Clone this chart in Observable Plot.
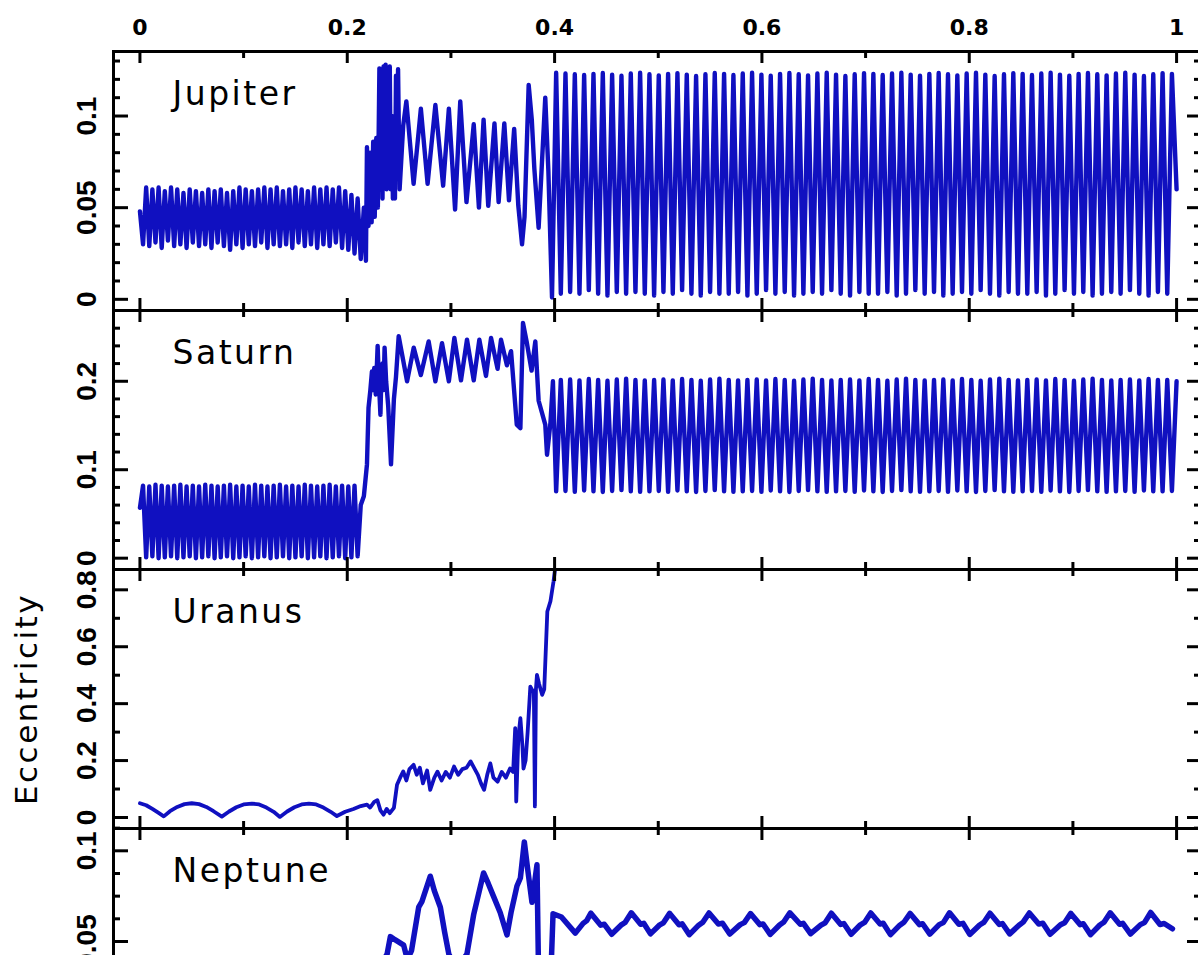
<!DOCTYPE html>
<html>
<head>
<meta charset="utf-8">
<script src="https://cdn.jsdelivr.net/npm/d3@7"></script>
<script src="https://cdn.jsdelivr.net/npm/@observablehq/plot@0.6"></script>
<style>
html, body { margin: 0; padding: 0; background: #fff; }
#chart { position: relative; width: 1198px; height: 955px; overflow: hidden; background: #fff; }
#chart svg { position: absolute; left: 0; }
</style>
</head>
<body>
<div id="chart"></div>
<script>
// ---------------- data ----------------
const planets = ["Jupiter", "Saturn", "Uranus", "Neptune"];
const yAxisTitle = "Eccentricity";

const xTicks = [0, 0.2, 0.4, 0.6, 0.8, 1];
const xTickLabels = ["0", "0.2", "0.4", "0.6", "0.8", "1"];
const xMinorTicks = [0.1, 0.3, 0.5, 0.7, 0.9];

const jupiterTicks = [0, 0.05, 0.1];
const jupiterTickLabels = ["0", "0.05", "0.1"];
const jupiterMinorTicks = [0.01, 0.02, 0.03, 0.04, 0.06, 0.07, 0.08, 0.09, 0.11, 0.12, 0.13];

const saturnTicks = [0, 0.1, 0.2];
const saturnTickLabels = ["0", "0.1", "0.2"];
const saturnMinorTicks = [0.02, 0.04, 0.06, 0.08, 0.12, 0.14, 0.16, 0.18, 0.22, 0.24, 0.26];

const uranusTicks = [0, 0.2, 0.4, 0.6, 0.8];
const uranusTickLabels = ["0", "0.2", "0.4", "0.6", "0.8"];
const uranusMinorTicks = [0.1, 0.3, 0.5, 0.7];

const neptuneTicks = [0, 0.05, 0.1];
const neptuneTickLabels = ["0", "0.05", "0.1"];
const neptuneMinorTicks = [0.0125, 0.025, 0.0375, 0.0625, 0.075, 0.0875, 0.1125];

// time samples (fraction of run) shared by Jupiter & Saturn, early phase
const earlyT = [0,0.003,0.006,0.009,0.012,0.015,0.018,0.021,0.024,0.027,0.03,0.033,0.036,0.039,0.042,0.045,0.048,0.051,0.054,0.057,0.06,0.063,0.066,0.069,0.072,0.075,0.078,0.081,0.084,0.087,0.09,0.093,0.096,0.099,0.102,0.105,0.108,0.111,0.114,0.117,0.12,0.123,0.126,0.129,0.132,0.135,0.138,0.141,0.144,0.147,0.15,0.153,0.156,0.159,0.162,0.165,0.168,0.171,0.174,0.177,0.18,0.183,0.186,0.189,0.192,0.195,0.198,0.201,0.204,0.207,0.21,0.213];

// time samples shared by Jupiter & Saturn, late phase
const lateT = [
0.4015,0.406,0.4105,0.415,0.4195,0.424,0.4285,0.433,0.4375,0.442,
0.4465,0.451,0.4555,0.46,0.4645,0.469,0.4735,0.478,0.4825,0.487,
0.4915,0.496,0.5005,0.505,0.5095,0.514,0.5185,0.523,0.5275,0.532,
0.5365,0.541,0.5455,0.55,0.5545,0.559,0.5635,0.568,0.5725,0.577,
0.5815,0.586,0.5905,0.595,0.5995,0.604,0.6085,0.613,0.6175,0.622,
0.6265,0.631,0.6355,0.64,0.6445,0.649,0.6535,0.658,0.6625,0.667,
0.6715,0.676,0.6805,0.685,0.6895,0.694,0.6985,0.703,0.7075,0.712,
0.7165,0.721,0.7255,0.73,0.7345,0.739,0.7435,0.748,0.7525,0.757,
0.7615,0.766,0.7705,0.775,0.7795,0.784,0.7885,0.793,0.7975,0.802,
0.8065,0.811,0.8155,0.82,0.8245,0.829,0.8335,0.838,0.8425,0.847,
0.8515,0.856,0.8605,0.865,0.8695,0.874,0.8785,0.883,0.8875,0.892,
0.8965,0.901,0.9055,0.91,0.9145,0.919,0.9235,0.928,0.9325,0.937,
0.9415,0.946,0.9505,0.955,0.9595,0.964,0.9685,0.973,0.9775,0.982,
0.9865,0.991,0.9955,1];

// Jupiter
const jupiterEarly = [0.048,0.030,0.061,0.029,0.060,0.031,0.061,0.028,0.059,0.032,0.061,0.029,0.060,0.030,0.058,0.028,0.060,0.031,0.059,0.029,0.058,0.030,0.060,0.028,0.059,0.031,0.060,0.029,0.058,0.027,0.059,0.030,0.061,0.028,0.060,0.030,0.059,0.029,0.060,0.031,0.061,0.028,0.060,0.030,0.061,0.029,0.059,0.030,0.060,0.028,0.061,0.031,0.060,0.029,0.059,0.030,0.061,0.028,0.060,0.030,0.061,0.029,0.060,0.031,0.061,0.028,0.059,0.027,0.057,0.025,0.055,0.022];
const jupiterMidT = [0.216,0.218,0.219,0.2205,0.222,0.2235,0.225,0.2265,0.228,0.2295,0.231,0.232,0.233,0.234,0.235,0.236,0.237,0.238,0.239,0.24,0.241,0.242,0.243,0.244,0.245,0.246,0.247,0.248,0.249,0.2505,0.252,0.254,0.257,
0.264,0.271,0.2775,0.285,0.2925,0.298,0.304,0.309,0.315,0.322,0.327,0.3315,0.336,0.342,0.346,0.3515,0.356,0.361,0.365,0.3686,0.371,0.375,0.378,0.3805,0.3846,0.391,0.394,0.3975];
const jupiterMid = [0.05,0.021,0.083,0.04,0.08,0.042,0.086,0.045,0.088,0.05,0.126,0.06,0.124,0.055,0.127,0.065,0.128,0.06,0.126,0.07,0.127,0.06,0.1,0.055,0.09,0.055,0.122,0.07,0.1255,0.06,0.075,0.095,0.108,
0.063,0.104,0.063,0.106,0.062,0.104,0.049,0.108,0.053,0.0955,0.05,0.098,0.051,0.096,0.053,0.096,0.054,0.093,0.051,0.03,0.045,0.117,0.098,0.071,0.039,0.11,0.07,0.001];
const jupiterLate = [
0.1236,0.003,0.1232,0.004,0.1228,0.003,0.1224,0.005,0.1230,0.003,
0.1235,0.002,0.1226,0.004,0.1220,0.003,0.1232,0.004,0.1236,0.003,
0.1228,0.002,0.1222,0.004,0.1230,0.003,0.1234,0.005,0.1226,0.003,
0.1218,0.002,0.1228,0.004,0.1235,0.003,0.1230,0.003,0.1224,0.004,
0.1232,0.002,0.1236,0.003,0.1226,0.005,0.1220,0.003,0.1230,0.004,
0.1235,0.002,0.1228,0.003,0.1222,0.004,0.1232,0.003,0.1236,0.005,
0.1226,0.003,0.1218,0.002,0.1228,0.004,0.1234,0.003,0.1230,0.003,
0.1224,0.004,0.1232,0.002,0.1236,0.003,0.1226,0.005,0.1220,0.003,
0.1230,0.004,0.1235,0.002,0.1228,0.003,0.1222,0.004,0.1232,0.003,
0.1236,0.005,0.1226,0.003,0.1218,0.002,0.1228,0.004,0.1234,0.003,
0.1230,0.003,0.1224,0.004,0.1232,0.002,0.1236,0.003,0.1226,0.005,
0.1220,0.003,0.1230,0.004,0.1235,0.002,0.1228,0.003,0.1222,0.004,
0.1232,0.003,0.1236,0.005,0.1226,0.003,0.1218,0.002,0.1228,0.004,
0.1234,0.003,0.1230,0.06];

// Saturn
const saturnEarly = [0.057,0.082,0.001,0.081,0.002,0.083,0.000,0.082,0.001,0.081,0.002,0.082,0.000,0.083,0.001,0.081,0.002,0.082,0.000,0.081,0.001,0.083,0.002,0.082,0.000,0.081,0.001,0.082,0.002,0.083,0.000,0.081,0.001,0.082,0.002,0.081,0.000,0.083,0.001,0.082,0.002,0.081,0.000,0.082,0.001,0.083,0.002,0.081,0.000,0.082,0.001,0.081,0.002,0.083,0.000,0.082,0.001,0.081,0.002,0.082,0.000,0.083,0.001,0.081,0.002,0.082,0.000,0.081,0.001,0.082,0.002,0.060];
const saturnMidT = [0.216,0.219,0.2205,0.2222,0.2238,0.225,0.226,0.2275,0.2293,0.2305,0.232,0.233,0.234,0.235,0.236,0.2375,0.2395,0.2422,0.245,0.247,0.2496,
0.2577,0.2641,0.271,0.2785,0.285,0.2914,0.298,0.3033,0.3097,0.3155,0.322,0.3274,0.3338,0.3387,0.345,0.3483,0.354,0.358,0.3635,0.367,0.3695,0.373,0.3778,0.3814,0.3846,0.391,0.3927,0.396,0.3984];
const saturnMid = [0.07,0.106,0.17,0.189,0.211,0.19,0.215,0.185,0.24,0.2,0.162,0.21,0.22,0.19,0.238,0.2,0.172,0.106,0.18,0.205,0.251,
0.2,0.238,0.207,0.245,0.2,0.243,0.2,0.249,0.201,0.247,0.201,0.247,0.206,0.249,0.214,0.247,0.218,0.234,0.151,0.147,0.266,0.245,0.212,0.245,0.178,0.151,0.117,0.153,0.2];
const saturnLate = [
0.0755,0.2015,0.0760,0.2020,0.0750,0.2010,0.0765,0.2025,0.0755,0.2015,
0.0748,0.2005,0.0760,0.2020,0.0770,0.2030,0.0755,0.2015,0.0750,0.2010,
0.0755,0.2015,0.0760,0.2020,0.0750,0.2010,0.0765,0.2025,0.0755,0.2015,
0.0748,0.2005,0.0760,0.2020,0.0770,0.2030,0.0755,0.2015,0.0750,0.2010,
0.0755,0.2015,0.0760,0.2020,0.0750,0.2010,0.0765,0.2025,0.0755,0.2015,
0.0748,0.2005,0.0760,0.2020,0.0770,0.2030,0.0755,0.2015,0.0750,0.2010,
0.0755,0.2015,0.0760,0.2020,0.0750,0.2010,0.0765,0.2025,0.0755,0.2015,
0.0748,0.2005,0.0760,0.2020,0.0770,0.2030,0.0755,0.2015,0.0750,0.2010,
0.0755,0.2015,0.0760,0.2020,0.0750,0.2010,0.0765,0.2025,0.0755,0.2015,
0.0748,0.2005,0.0760,0.2020,0.0770,0.2030,0.0755,0.2015,0.0750,0.2010,
0.0755,0.2015,0.0760,0.2020,0.0750,0.2010,0.0765,0.2025,0.0755,0.2015,
0.0748,0.2005,0.0760,0.2020,0.0770,0.2030,0.0755,0.2015,0.0750,0.2010,
0.0755,0.2015,0.0760,0.2020,0.0750,0.2010,0.0765,0.2025,0.0755,0.2015,
0.0755,0.2015,0.0760,0.2000];

// Uranus
const uranusT = [0,0.006,0.012,0.018,0.023,0.029,0.036,0.043,0.05,0.057,0.064,0.071,0.079,0.086,0.093,0.1,0.108,0.115,0.122,0.129,0.135,0.142,0.149,0.156,0.163,0.17,0.177,0.184,0.19,0.198,
0.206,0.213,0.219,0.222,0.226,0.229,0.232,0.235,0.238,0.241,0.245,0.248,0.251,0.254,0.257,0.26,0.264,0.267,0.27,0.273,0.277,0.28,0.284,0.287,0.291,0.295,0.299,0.303,0.307,0.311,0.315,0.319,0.323,0.326,0.329,0.332,0.335,0.338,0.341,0.345,0.349,0.353,0.357,0.36,0.362,0.363,0.365,0.367,0.369,0.37,0.372,0.374,0.3766,0.378,0.38,0.381,0.382,0.383,0.385,0.388,0.39,0.393,0.396,0.399,0.4007];
const uranusE = [0.05,0.043,0.03,0.016,0.004,0.022,0.037,0.047,0.05,0.047,0.037,0.022,0.003,0.021,0.036,0.046,0.049,0.046,0.035,0.02,0.002,0.021,0.036,0.046,0.049,0.046,0.035,0.02,0.005,0.02,
0.03,0.04,0.045,0.035,0.055,0.061,0.025,0.01,0.03,0.015,0.034,0.115,0.14,0.162,0.13,0.17,0.185,0.15,0.175,0.12,0.165,0.097,0.14,0.161,0.13,0.16,0.14,0.179,0.15,0.17,0.175,0.197,0.17,0.15,0.12,0.097,0.15,0.19,0.14,0.126,0.16,0.14,0.172,0.16,0.314,0.056,0.28,0.349,0.25,0.172,0.2,0.3,0.46,0.45,0.44,0.039,0.45,0.501,0.47,0.431,0.45,0.724,0.76,0.83,0.88];

// Neptune
const neptuneT = [0,0.025,0.05,0.075,0.1,0.125,0.15,0.175,0.2,0.215,0.222,0.23,0.2384,0.2416,0.246,0.2544,0.258,0.262,0.2689,0.272,0.2801,0.284,0.2898,0.294,0.298,0.305,0.3154,0.322,0.3315,0.336,0.341,0.3475,0.3541,0.358,0.3637,0.367,0.3708,0.374,0.3782,0.383,0.3846,0.39,0.396,0.3985,0.4066,
0.42,0.4275,0.431,0.435,0.4445,0.448,
0.455,0.464,0.468,0.474,0.483,0.486,
0.4925,0.5015,0.505,0.511,0.52,0.523,
0.53,0.539,0.543,0.549,0.558,0.562,
0.569,0.579,0.583,0.589,0.598,0.601,
0.608,0.617,0.621,0.627,0.637,0.64,
0.647,0.657,0.661,0.667,0.676,0.679,
0.686,0.695,0.699,0.705,0.714,0.717,
0.724,0.733,0.737,0.743,0.752,0.755,
0.762,0.771,0.775,0.781,0.79,0.794,
0.8005,0.81,0.814,0.82,0.829,0.832,
0.839,0.848,0.852,0.858,0.867,0.871,
0.878,0.888,0.892,0.898,0.907,0.91,
0.917,0.926,0.93,0.936,0.945,0.948,
0.9555,0.965,0.969,0.975,0.984,0.988,
0.996];
const neptuneE = [0.01,0.018,0.008,0.017,0.009,0.018,0.008,0.017,0.01,0.015,0.025,0.035,0.043,0.0527,0.051,0.048,0.04,0.045,0.0689,0.072,0.086,0.078,0.0689,0.055,0.043,0.035,0.043,0.065,0.0878,0.082,0.075,0.066,0.0536,0.066,0.0806,0.085,0.1049,0.09,0.0716,0.0923,0.03,0.02,0.025,0.0653,0.0635,
0.0546,0.0600,0.0615,0.0656,0.0590,0.0595,
0.0540,0.0590,0.0605,0.0658,0.0595,0.0600,
0.0542,0.0592,0.0603,0.0655,0.0592,0.0598,
0.0538,0.0590,0.0606,0.0657,0.0596,0.0601,
0.0541,0.0593,0.0604,0.0654,0.0593,0.0597,
0.0539,0.0591,0.0607,0.0658,0.0595,0.0600,
0.0543,0.0590,0.0603,0.0656,0.0594,0.0599,
0.0540,0.0592,0.0605,0.0657,0.0596,0.0601,
0.0538,0.0590,0.0606,0.0655,0.0593,0.0598,
0.0541,0.0593,0.0604,0.0658,0.0595,0.0600,
0.0539,0.0591,0.0605,0.0656,0.0594,0.0599,
0.0542,0.0590,0.0607,0.0657,0.0596,0.0601,
0.0540,0.0592,0.0603,0.0655,0.0593,0.0598,
0.0538,0.0591,0.0606,0.0658,0.0595,0.0600,
0.0541,0.0593,0.0604,0.0660,0.0594,0.0599,
0.0570];

// ---------------- build ----------------
function series(...parts) {
  const out = [];
  for (const [T, E] of parts) T.forEach((t, i) => out.push({t, e: E[i]}));
  return out;
}
const jupiterData = series([earlyT, jupiterEarly], [jupiterMidT, jupiterMid], [lateT, jupiterLate]);
const saturnData = series([earlyT, saturnEarly], [saturnMidT, saturnMid], [lateT, saturnLate]);
const uranusData = series([uranusT, uranusE]);
const neptuneData = series([neptuneT, neptuneE]);

const W = 1230, ML = 113, MR = 28, MT = 50, MB = 20, PH = 259;
const FW = W - ML - MR;
const BLUE = "#1010c0";
const xDomain = [-0.0255, 1.025];
const frameTops = [50.5, 309.5, 568.5, 827.5];

const specs = [
  {name: planets[0], data: jupiterData, yDomain: [-0.0061, 0.1352], ticks: jupiterTicks, labels: jupiterTickLabels, minor: jupiterMinorTicks, sw: 4.4},
  {name: planets[1], data: saturnData, yDomain: [-0.0128, 0.2800], ticks: saturnTicks, labels: saturnTickLabels, minor: saturnMinorTicks, sw: 4.4},
  {name: planets[2], data: uranusData, yDomain: [-0.0387, 0.8714], ticks: uranusTicks, labels: uranusTickLabels, minor: uranusMinorTicks, sw: 3.8},
  {name: planets[3], data: neptuneData, yDomain: [-0.0305, 0.1123], ticks: neptuneTicks, labels: neptuneTickLabels, minor: neptuneMinorTicks, sw: 5.5}
];

const chart = document.getElementById("chart");
specs.forEach((o, i) => {
  const marks = [
    Plot.line(o.data, {x: "t", y: "e", stroke: BLUE, strokeWidth: o.sw, clip: true}),
    Plot.frame({stroke: "#000", strokeWidth: 3}),
    Plot.tickX(xTicks, {x: d => d, insetBottom: PH - 12, stroke: "#000", strokeWidth: 3}),
    Plot.tickX(xTicks, {x: d => d, insetTop: PH - 12, stroke: "#000", strokeWidth: 3}),
    Plot.tickX(xMinorTicks, {x: d => d, insetBottom: PH - 7, stroke: "#000", strokeWidth: 3}),
    Plot.tickX(xMinorTicks, {x: d => d, insetTop: PH - 7, stroke: "#000", strokeWidth: 3}),
    Plot.tickY(o.ticks, {y: d => d, insetRight: FW - 15, stroke: "#000", strokeWidth: 3}),
    Plot.tickY(o.ticks, {y: d => d, insetLeft: FW - 15, stroke: "#000", strokeWidth: 3}),
    Plot.tickY(o.minor, {y: d => d, insetRight: FW - 7, stroke: "#000", strokeWidth: 3}),
    Plot.tickY(o.minor, {y: d => d, insetLeft: FW - 8, stroke: "#000", strokeWidth: 3}),
    Plot.text(o.ticks, {y: d => d, text: o.labels, frameAnchor: "left", dx: -26, rotate: -90,
      textAnchor: "middle", lineAnchor: "middle",
      fontSize: 28, fontWeight: "bold", fontFamily: "Liberation Sans", fill: "#000"}),
    Plot.text([o.name], {frameAnchor: "top-left", dx: 59, dy: 53.5, lineAnchor: "bottom", textAnchor: "start",
      fontSize: 33, fontFamily: "DejaVu Sans", fill: "#000"})
  ];
  if (i === 0) {
    marks.push(Plot.text(xTicks, {x: d => d, text: xTickLabels, frameAnchor: "top", dy: -24,
      textAnchor: "middle", lineAnchor: "middle",
      fontSize: 22, fontWeight: "bold", fontFamily: "DejaVu Sans", fill: "#000"}));
  }
  if (i === 2) {
    marks.push(Plot.text([yAxisTitle], {frameAnchor: "left", dx: -86, rotate: -90,
      textAnchor: "middle", lineAnchor: "middle",
      fontSize: 31, fontFamily: "DejaVu Sans", fill: "#000"}));
  }
  const svg = Plot.plot({
    width: W, height: MT + PH + MB,
    marginLeft: ML, marginRight: MR, marginTop: MT, marginBottom: MB,
    x: {domain: xDomain, axis: null},
    y: {domain: o.yDomain, axis: null},
    style: {background: "transparent", overflow: "visible", maxWidth: "none"},
    marks
  });
  svg.style.top = (frameTops[i] - MT) + "px";
  svg.querySelectorAll("text").forEach(t => {
    if (planets.includes(t.textContent)) t.style.letterSpacing = "2.5px";
    if (t.textContent === yAxisTitle) t.style.letterSpacing = "2.5px";
  });
  chart.appendChild(svg);
});
</script>
</body>
</html>
